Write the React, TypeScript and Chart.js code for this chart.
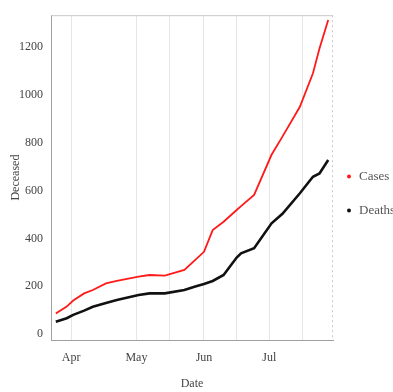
import React, { useEffect, useRef } from "react";
import { Chart, registerables } from "chart.js";

Chart.register(...registerables);

// days since April 1
const days = [-7, -2, 1, 6, 10, 16, 21, 31, 36, 43, 52, 57, 61, 65, 70, 76, 78, 84, 92, 97, 105, 111, 114, 118];
const cases = [86, 115, 140, 170, 184, 212, 222, 240, 247, 244, 268, 310, 344, 435, 470, 519, 535, 582, 750, 826, 951, 1091, 1195, 1314];
const deaths = [51, 66, 80, 98, 114, 130, 142, 163, 170, 170, 184, 199, 209, 222, 247, 320, 338, 359, 463, 503, 589, 658, 672, 728];

const xTickValues = [0, 30, 45, 61, 76, 91, 106];
const xTickLabels: Record<number, string> = { 0: "Apr", 30: "May", 61: "Jun", 91: "Jul" };
const yTickValues = [0, 200, 400, 600, 800, 1000, 1200];

const seriesLabels = ["Cases", "Deaths"];
const seriesColors = ["#ff1a1a", "#111111"];

const SERIF = "'Liberation Serif', 'DejaVu Serif', serif";

const framePlugin = {
  id: "frame",
  afterDraw(chart: any) {
    const { ctx, chartArea } = chart;
    ctx.save();
    ctx.strokeStyle = "#c8c8c8";
    ctx.lineWidth = 1;
    ctx.beginPath();
    ctx.moveTo(chartArea.left, chartArea.top + 0.5);
    ctx.lineTo(chartArea.right, chartArea.top + 0.5);
    ctx.stroke();
    ctx.setLineDash([2, 3]);
    ctx.beginPath();
    ctx.moveTo(chartArea.right - 0.5, chartArea.top);
    ctx.lineTo(chartArea.right - 0.5, chartArea.bottom);
    ctx.stroke();
    ctx.restore();
  },
};

const legendPlugin = {
  id: "sideLegend",
  afterDraw(chart: any) {
    const { ctx, chartArea } = chart;
    const cy = (chartArea.top + chartArea.bottom) / 2 + 16;
    ctx.save();
    ctx.font = `13px ${SERIF}`;
    ctx.textBaseline = "middle";
    chart.data.datasets.forEach((ds: any, i: number) => {
      const y = cy + (i - 0.5) * 34;
      const x = chartArea.right + 16;
      ctx.fillStyle = ds.borderColor;
      ctx.beginPath();
      ctx.arc(x, y, 2, 0, Math.PI * 2);
      ctx.fill();
      ctx.fillStyle = "#555";
      ctx.fillText(ds.label, x + 10, y);
    });
    ctx.restore();
  },
};

export default function App() {
  const ref = useRef<HTMLCanvasElement>(null);
  useEffect(() => {
    document.body.style.margin = "0";
    const chart = new Chart(ref.current!, {
      type: "line",
      data: {
        datasets: [
          {
            label: seriesLabels[0],
            data: days.map((d, i) => ({ x: d, y: cases[i] })),
            borderColor: seriesColors[0],
            borderWidth: 1.8,
            pointRadius: 0,
            tension: 0,
          },
          {
            label: seriesLabels[1],
            data: days.map((d, i) => ({ x: d, y: deaths[i] })),
            borderColor: seriesColors[1],
            borderWidth: 2.6,
            pointRadius: 0,
            tension: 0,
          },
        ],
      },
      options: {
        animation: false,
        responsive: false,
        layout: { padding: { top: 15, right: 60, left: 0, bottom: 0 } },
        plugins: { legend: { display: false }, tooltip: { enabled: false } },
        scales: {
          x: {
            type: "linear",
            min: -9.2,
            max: 120.2,
            afterFit: (s: any) => {
              s.height = 52;
            },
            afterBuildTicks: (s: any) => {
              s.ticks = xTickValues.map((v) => ({ value: v }));
            },
            ticks: {
              autoSkip: false,
              maxRotation: 0,
              padding: 11,
              color: "#444",
              font: { family: SERIF, size: 12 },
              callback: (v: any) => xTickLabels[v as number] ?? "",
            },
            grid: {
              color: "#e6e6e6",
              drawTicks: false,
            },
            border: { color: "#a0a0a0", width: 1 },
            title: {
              display: true,
              text: "Date",
              color: "#444",
              font: { family: SERIF, size: 12 },
              padding: { top: 0, bottom: 1 },
            },
          },
          y: {
            min: -25,
            max: 1334,
            afterFit: (s: any) => {
              s.width = 51;
            },
            afterBuildTicks: (s: any) => {
              s.ticks = yTickValues.map((v) => ({ value: v }));
            },
            ticks: {
              padding: 8,
              color: "#444",
              font: { family: SERIF, size: 12 },
              callback: (v: any) => String(v),
            },
            grid: { display: false, drawTicks: false },
            border: { color: "#a0a0a0", width: 1 },
            title: {
              display: true,
              text: "Deceased",
              color: "#444",
              font: { family: SERIF, size: 12 },
              padding: { top: 9, bottom: 0 },
            },
          },
        },
      },
      plugins: [framePlugin, legendPlugin],
    });
    return () => chart.destroy();
  }, []);
  return (
    <div style={{ width: 393, height: 392 }}>
      <canvas ref={ref} width={393} height={392} style={{ display: "block" }} />
    </div>
  );
}
